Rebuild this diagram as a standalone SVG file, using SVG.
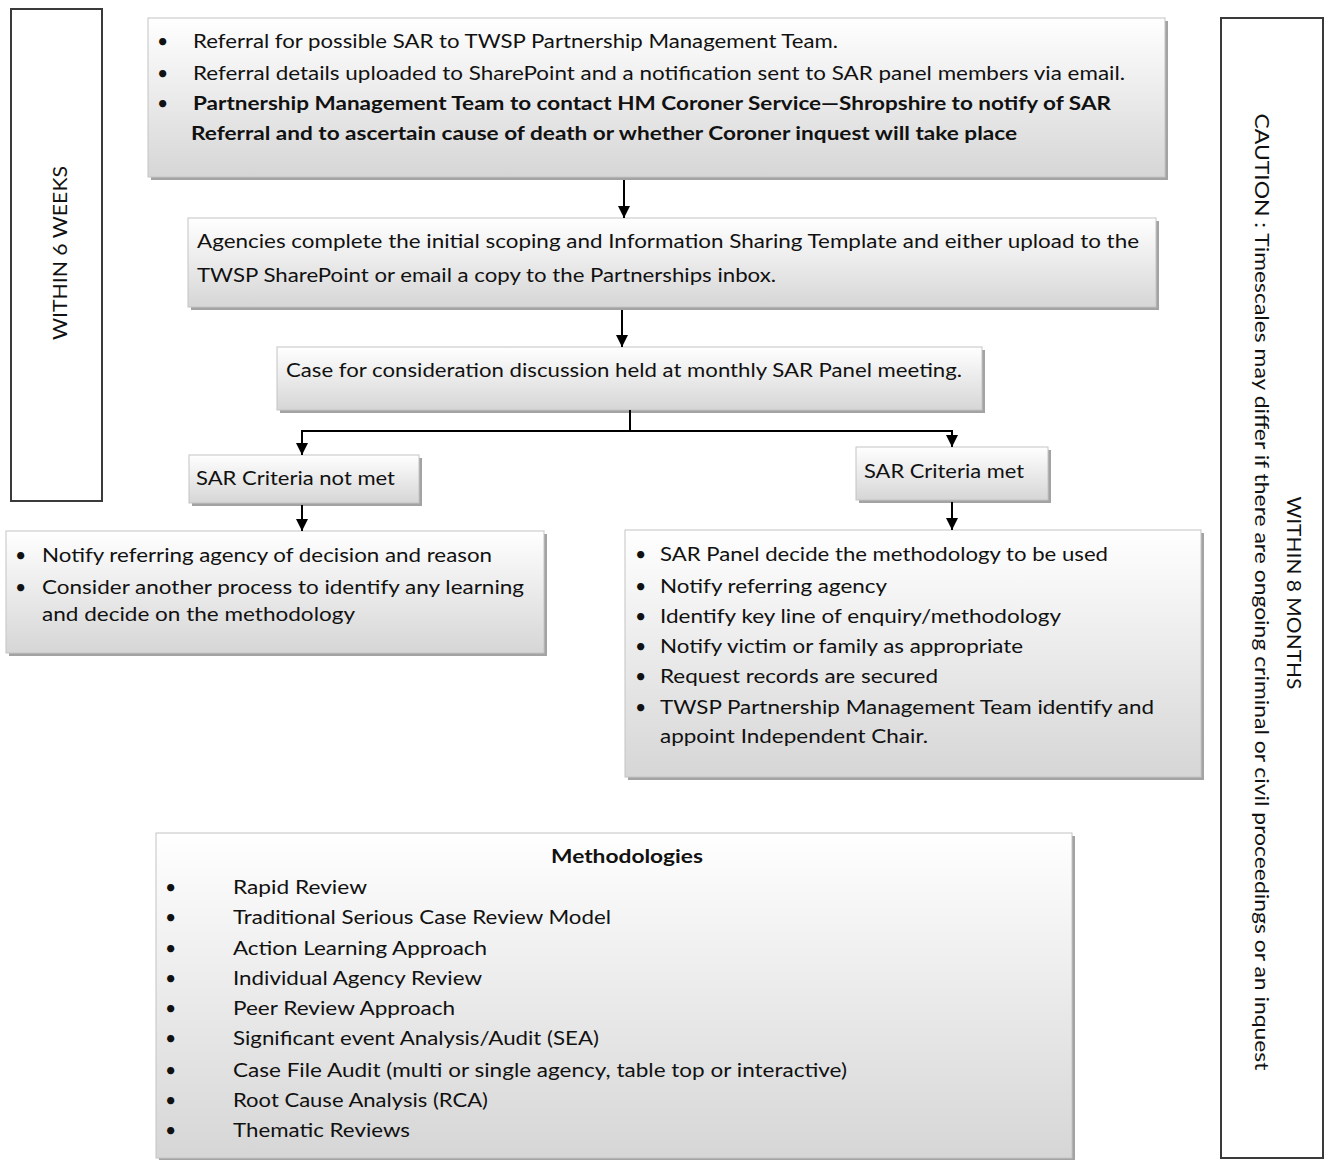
<svg xmlns="http://www.w3.org/2000/svg" width="1327" height="1160" viewBox="0 0 1327 1160">
<defs>
<linearGradient id="g" x1="0" y1="0" x2="0" y2="1">
<stop offset="0" stop-color="#ffffff"/>
<stop offset="1" stop-color="#d6d6d6"/>
</linearGradient>
<marker id="ah" markerUnits="userSpaceOnUse" markerWidth="12" markerHeight="14" viewBox="0 0 12 14" refX="12" refY="6" orient="auto">
<path d="M0,0 L12,6 L0,12 z" fill="#000"/>
</marker>
<style>
.sh{fill:#a3a3a3}
.bx{fill:url(#g);stroke:#c4c4c4;stroke-width:1}
.side{fill:#fff;stroke:#3a3a3a;stroke-width:2}
text{font-family:Lato,"Liberation Sans",sans-serif;font-size:19.5px;fill:#111}
.b{font-weight:bold}
.c{stroke:#000;stroke-width:2;fill:none}
</style>
</defs>

<g id="side-left">
<rect class="side" x="11" y="9" width="91" height="492"/>
<text transform="translate(67,253) rotate(-90)" text-anchor="middle" textLength="174" lengthAdjust="spacingAndGlyphs">WITHIN 6 WEEKS</text>
</g>

<g id="side-right">
<rect class="side" x="1221" y="18" width="102" height="1140"/>
<text transform="translate(1287,593) rotate(90)" text-anchor="middle" textLength="193" lengthAdjust="spacingAndGlyphs">WITHIN 8 MONTHS</text>
<text transform="translate(1255,592) rotate(90)" text-anchor="middle" textLength="957" lengthAdjust="spacingAndGlyphs">CAUTION : Timescales may differ if there are ongoing criminal or civil proceedings or an inquest</text>
</g>

<g id="n-referral">
<rect class="sh" x="151" y="21" width="1017" height="159"/>
<rect class="bx" x="148" y="18" width="1017" height="159"/>
<text x="157" y="48">•</text>
<text x="193" y="48" textLength="645" lengthAdjust="spacingAndGlyphs">Referral for possible SAR to TWSP Partnership Management Team.</text>
<text x="157" y="80">•</text>
<text x="193" y="80" textLength="932" lengthAdjust="spacingAndGlyphs">Referral details uploaded to SharePoint and a notification sent to SAR panel members via email.</text>
<text x="157" y="110">•</text>
<text class="b" x="193" y="110" textLength="918" lengthAdjust="spacingAndGlyphs">Partnership Management Team to contact HM Coroner Service—Shropshire to notify of SAR</text>
<text class="b" x="191" y="140" textLength="826" lengthAdjust="spacingAndGlyphs">Referral and to ascertain cause of death or whether Coroner inquest will take place</text>
</g>

<g id="n-agencies">
<rect class="sh" x="191" y="221" width="968" height="89"/>
<rect class="bx" x="188" y="218" width="968" height="89"/>
<text x="197" y="248" textLength="942" lengthAdjust="spacingAndGlyphs">Agencies complete the initial scoping and Information Sharing Template and either upload to the</text>
<text x="197" y="282" textLength="579" lengthAdjust="spacingAndGlyphs">TWSP SharePoint or email a copy to the Partnerships inbox.</text>
</g>

<g id="n-case">
<rect class="sh" x="280" y="350" width="705" height="63"/>
<rect class="bx" x="277" y="347" width="705" height="63"/>
<text x="286" y="377" textLength="676" lengthAdjust="spacingAndGlyphs">Case for consideration discussion held at monthly SAR Panel meeting.</text>
</g>

<g id="n-notmet">
<rect class="sh" x="192" y="458" width="230" height="48"/>
<rect class="bx" x="189" y="455" width="230" height="48"/>
<text x="196" y="485" textLength="199" lengthAdjust="spacingAndGlyphs">SAR Criteria not met</text>
</g>

<g id="n-met">
<rect class="sh" x="859" y="450" width="192" height="53"/>
<rect class="bx" x="856" y="447" width="192" height="53"/>
<text x="864" y="478" textLength="160" lengthAdjust="spacingAndGlyphs">SAR Criteria met</text>
</g>

<g id="n-notify">
<rect class="sh" x="9" y="534" width="538" height="122"/>
<rect class="bx" x="6" y="531" width="538" height="122"/>
<text x="15" y="562">•</text>
<text x="42" y="562" textLength="450" lengthAdjust="spacingAndGlyphs">Notify referring agency of decision and reason</text>
<text x="15" y="594">•</text>
<text x="42" y="594" textLength="482" lengthAdjust="spacingAndGlyphs">Consider another process to identify any learning</text>
<text x="42" y="621" textLength="313" lengthAdjust="spacingAndGlyphs">and decide on the methodology</text>
</g>

<g id="n-panel">
<rect class="sh" x="628" y="533" width="576" height="247"/>
<rect class="bx" x="625" y="530" width="576" height="247"/>
<text x="635" y="561">•</text>
<text x="660" y="561" textLength="448" lengthAdjust="spacingAndGlyphs">SAR Panel decide the methodology to be used</text>
<text x="635" y="593">•</text>
<text x="660" y="593" textLength="227" lengthAdjust="spacingAndGlyphs">Notify referring agency</text>
<text x="635" y="623">•</text>
<text x="660" y="623" textLength="401" lengthAdjust="spacingAndGlyphs">Identify key line of enquiry/methodology</text>
<text x="635" y="653">•</text>
<text x="660" y="653" textLength="363" lengthAdjust="spacingAndGlyphs">Notify victim or family as appropriate</text>
<text x="635" y="683">•</text>
<text x="660" y="683" textLength="278" lengthAdjust="spacingAndGlyphs">Request records are secured</text>
<text x="635" y="714">•</text>
<text x="660" y="714" textLength="494" lengthAdjust="spacingAndGlyphs">TWSP Partnership Management Team identify and</text>
<text x="660" y="743" textLength="268" lengthAdjust="spacingAndGlyphs">appoint Independent Chair.</text>
</g>

<g id="n-methodologies">
<rect class="sh" x="159" y="836" width="916" height="325"/>
<rect class="bx" x="156" y="833" width="916" height="325"/>
<text class="b" x="627" y="863" text-anchor="middle" textLength="152" lengthAdjust="spacingAndGlyphs">Methodologies</text>
<text x="165" y="894">•</text>
<text x="233" y="894" textLength="134" lengthAdjust="spacingAndGlyphs">Rapid Review</text>
<text x="165" y="924">•</text>
<text x="233" y="924" textLength="378" lengthAdjust="spacingAndGlyphs">Traditional Serious Case Review Model</text>
<text x="165" y="955">•</text>
<text x="233" y="955" textLength="254" lengthAdjust="spacingAndGlyphs">Action Learning Approach</text>
<text x="165" y="985">•</text>
<text x="233" y="985" textLength="249" lengthAdjust="spacingAndGlyphs">Individual Agency Review</text>
<text x="165" y="1015">•</text>
<text x="233" y="1015" textLength="222" lengthAdjust="spacingAndGlyphs">Peer Review Approach</text>
<text x="165" y="1045">•</text>
<text x="233" y="1045" textLength="366" lengthAdjust="spacingAndGlyphs">Significant event Analysis/Audit (SEA)</text>
<text x="165" y="1077">•</text>
<text x="233" y="1077" textLength="614" lengthAdjust="spacingAndGlyphs">Case File Audit (multi or single agency, table top or interactive)</text>
<text x="165" y="1107">•</text>
<text x="233" y="1107" textLength="255" lengthAdjust="spacingAndGlyphs">Root Cause Analysis (RCA)</text>
<text x="165" y="1137">•</text>
<text x="233" y="1137" textLength="177" lengthAdjust="spacingAndGlyphs">Thematic Reviews</text>
</g>

<g id="connectors">
<path class="c" d="M624,180 V218" marker-end="url(#ah)"/>
<path class="c" d="M622,310 V347" marker-end="url(#ah)"/>
<path class="c" d="M630,410 V431 H302 V455" marker-end="url(#ah)"/>
<path class="c" d="M630,431 H952 V447" marker-end="url(#ah)"/>
<path class="c" d="M302,505 V531" marker-end="url(#ah)"/>
<path class="c" d="M952,502 V530" marker-end="url(#ah)"/>
</g>
</svg>
